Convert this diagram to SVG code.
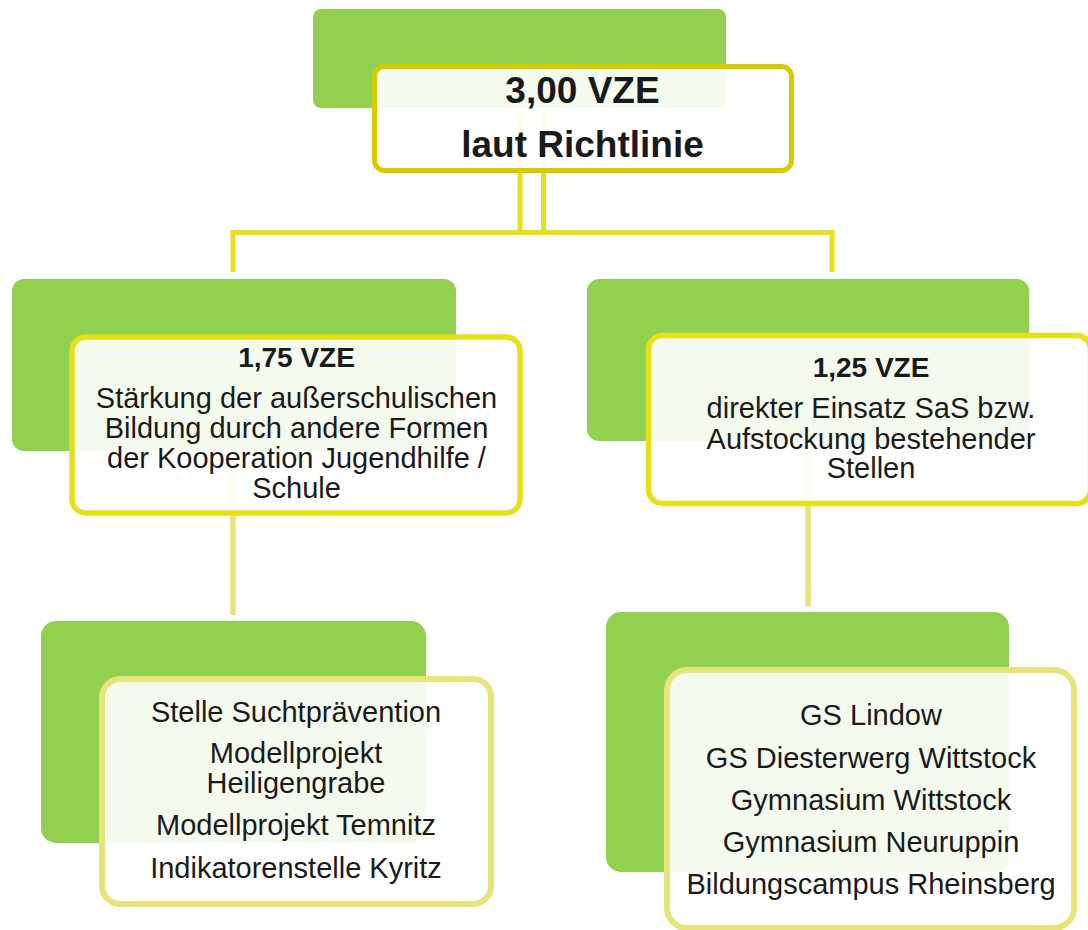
<svg xmlns="http://www.w3.org/2000/svg" width="1088" height="930" viewBox="0 0 1088 930">
<style>
.g{fill:#92D050}
.w{fill:#FFFFFF;fill-opacity:0.9}
.s0{stroke:#D4CC00;stroke-width:5}
.s1{stroke:#E5E01A;stroke-width:5.5}
.s2{stroke:#E6E47A;stroke-width:6}
.c1{fill:none;stroke:#E5E01A;stroke-width:5}
.c2{fill:none;stroke:#E6E47A;stroke-width:5.5}
text{font-family:"Liberation Sans",Arial,sans-serif;fill:#1A1A1A;text-anchor:middle}
.b{font-weight:bold}
.t{font-size:29px}
</style>
<rect width="1088" height="930" fill="#FFFFFF"/>
<g id="connectors">
<path class="c1" d="M520,113 V232.5 M543.5,113 V232.5"/>
<path class="c1" d="M233,272 V232.5 H832 V272"/>
<path class="c2" d="M233,456 V615"/>
<path class="c2" d="M808,446 V606"/>
</g>
<g id="node-top">
<rect class="g" x="313" y="9" width="413" height="99" rx="8"/>
<rect class="w s0" x="374.5" y="66.5" width="417" height="104" rx="10"/>
<text class="b" x="582.5" y="103" font-size="37">3,00 VZE</text>
<text class="b" x="582.5" y="157" font-size="37">laut Richtlinie</text>
</g>
<g id="node-left">
<rect class="g" x="12" y="279" width="444" height="172" rx="12"/>
<rect class="w s1" x="72" y="337" width="448" height="176" rx="14"/>
<text class="b" x="296.5" y="367" font-size="28">1,75 VZE</text>
<text class="t" x="296.5" y="408">Stärkung der außerschulischen</text>
<text class="t" x="296.5" y="438">Bildung durch andere Formen</text>
<text class="t" x="296.5" y="468">der Kooperation Jugendhilfe /</text>
<text class="t" x="296.5" y="498">Schule</text>
</g>
<g id="node-right">
<rect class="g" x="587" y="279" width="442" height="162" rx="12"/>
<rect class="w s1" x="648.5" y="335.5" width="442" height="168" rx="14"/>
<text class="b" x="871" y="377" font-size="28">1,25 VZE</text>
<text class="t" x="871" y="418">direkter Einsatz SaS bzw.</text>
<text class="t" x="871" y="449">Aufstockung bestehender</text>
<text class="t" x="871" y="478">Stellen</text>
</g>
<g id="node-left-list">
<rect class="g" x="41" y="621" width="385" height="222" rx="15"/>
<rect class="w s2" x="102" y="679" width="389" height="225" rx="18"/>
<text class="t" x="296" y="722">Stelle Suchtprävention</text>
<text class="t" x="296" y="763">Modellprojekt</text>
<text class="t" x="296" y="793">Heiligengrabe</text>
<text class="t" x="296" y="835">Modellprojekt Temnitz</text>
<text class="t" x="296" y="878">Indikatorenstelle Kyritz</text>
</g>
<g id="node-right-list">
<rect class="g" x="606" y="612" width="403" height="260" rx="15"/>
<rect class="w s2" x="667" y="670" width="407" height="258" rx="20"/>
<text class="t" x="871" y="725">GS Lindow</text>
<text class="t" x="871" y="768">GS Diesterwerg Wittstock</text>
<text class="t" x="871" y="810">Gymnasium Wittstock</text>
<text class="t" x="871" y="852">Gymnasium Neuruppin</text>
<text class="t" x="871" y="894">Bildungscampus Rheinsberg</text>
</g>
</svg>
